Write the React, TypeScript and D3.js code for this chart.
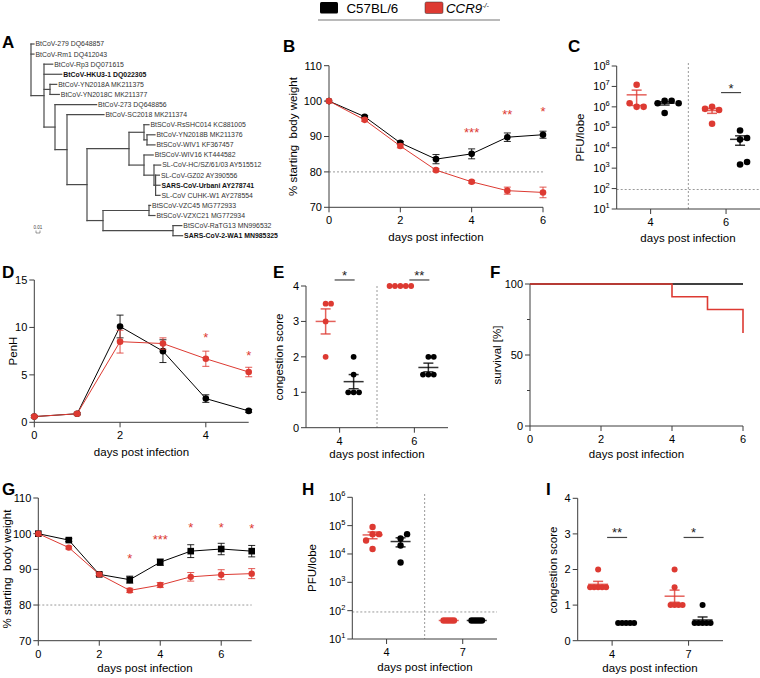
import React from 'react';
import * as d3 from 'd3';

const FONT = "'Liberation Sans', Arial, Helvetica, sans-serif";
const RED = '#dd3a32';
const BLK = '#000000';
const AX = '#3c3c3c';
const DASH = '#808080';

// ---------- Legend ----------
const legendLabels = ['C57BL/6', 'CCR9'];

// ---------- Panel A: phylogeny (branch lengths, substitutions/site) ----------
type TNode = { name?: string; len: number; bold?: boolean; children?: TNode[] };
const L = (name: string, len: number, bold = false): TNode => ({ name, len, bold });
const N = (len: number, ...children: TNode[]): TNode => ({ len, children });
const treeData: TNode = N(0,
  L('BtCoV-279 DQ648857', 0.0075),
  L('BtCoV-Rm1 DQ412043', 0.0075),
  N(0.0325,
    L('BtCoV-Rp3 DQ071615', 0.0218),
    L('BtCoV-HKU3-1 DQ022305', 0.0443, true),
    N(0.015, L('BtCoV-YN2018A MK211375', 0.0168), L('BtCoV-YN2018C MK211377', 0.0233)),
    N(0.0275,
      L('BtCoV-273 DQ648856', 0.104),
      N(0.03,
        L('BtCoV-SC2018 MK211374', 0.0925),
        N(0.05,
          N(0.105,
            N(0.0375,
              L('BtSCoV-RsSHC014 KC881005', 0.0125),
              N(0.0075, L('BtCoV-YN2018B MK211376', 0.02), L('BtSCoV-WIV1 KF367457', 0.02))),
            N(0.0375,
              L('BtSCoV-WIV16 KT444582', 0.023),
              N(0.025,
                L('SL-CoV-HC/SZ/61/03 AY515512', 0.0168),
                N(0.004,
                  L('SL-CoV-GZ02 AY390556', 0.0095),
                  L('SARS-CoV-Urbani AY278741', 0.011, true),
                  L('SL-CoV CUHK-W1 AY278554', 0.011))))),
          N(0.04,
            N(0.115, L('BtSCoV-VZC45 MG772933', 0.004), L('BtSCoV-VZXC21 MG772934', 0.015)),
            N(0.175, L('BtSCoV-RaTG13 MN996532', 0.022), L('SARS-CoV-2-WA1 MN985325', 0.024, true)))))))
);
const scaleBarValue = 0.01;

// ---------- Panel B ----------
const bDays = [0, 1, 2, 3, 4, 5, 6];
const bWT = [100, 95.6, 88.2, 83.6, 85.1, 89.8, 90.5];
const bWTsem = [0, 0.3, 0.4, 1.3, 1.4, 1.2, 1.0];
const bKO = [100, 94.7, 87.3, 80.5, 77.2, 74.7, 74.2];
const bKOsem = [0, 0.4, 0.5, 0.4, 0.4, 1.0, 1.5];
const bStars = [{ d: 4, v: 91.8, t: '***' }, { d: 5, v: 97, t: '**' }, { d: 6, v: 97.8, t: '*' }];
const bTicksY = [70, 80, 90, 100, 110];
const bTicksX = [0, 2, 4, 6];

// ---------- Panel C ----------
const cGroups = ['4', '6'];
const cKO = [[1.0e6, 1.2e7, 1.0e6, 1.5e6], [1.0e6, 7e5, 8e5, 1.5e5]];
const cWT = [[2e6, 2e6, 1.5e6, 1.5e6, 5e5], [7e4, 2.5e4, 3e4, 1.5e3, 2e3]];
const cLOD = 90;
const cSig = [{ g: '6', v: 5e6, t: '*' }];
const cExp = [1, 2, 3, 4, 5, 6, 7, 8];

// ---------- Panel D ----------
const dDays = [0, 1, 2, 3, 4, 5];
const dWT = [0.6, 0.9, 10.1, 7.5, 2.5, 1.2];
const dWTsem = [0.1, 0.1, 1.2, 1.2, 0.4, 0.15];
const dKO = [0.6, 0.9, 8.5, 8.3, 6.7, 5.3];
const dKOsem = [0.1, 0.15, 1.2, 0.6, 0.8, 0.5];
const dStars = [{ d: 4, v: 9.2, t: '*' }, { d: 5, v: 7.3, t: '*' }];
const dTicksY = [0, 5, 10, 15];
const dTicksX = [0, 2, 4];

// ---------- Panel E ----------
const eGroups = ['4', '6'];
const eKO = [[3.5, 3.5, 3, 2], [4, 4, 4, 4, 4]];
const eWT = [[2, 1.5, 1, 1, 1], [2, 2, 1.5, 1.5, 1.5]];
const eSig = [{ g: '4', v: 4.17, t: '*' }, { g: '6', v: 4.17, t: '**' }];
const eTicksY = [0, 1, 2, 3, 4];

// ---------- Panel F ----------
const fWTdays = [0, 6];
const fWT = [100, 100];
const fKOdays = [0, 4, 5, 6];
const fKO = [100, 91, 82, 65.5];
const fTicksY = [0, 50, 100];
const fMinorY = [25, 75];
const fTicksX = [0, 2, 4, 6];

// ---------- Panel G ----------
const gDays = [0, 1, 2, 3, 4, 5, 6, 7];
const gWT = [100, 98.2, 88.6, 87.1, 92.0, 95.1, 95.7, 95.1];
const gWTsem = [0, 0.4, 0.4, 1.0, 0.9, 1.8, 1.6, 1.6];
const gKO = [100, 96.1, 88.6, 84.1, 85.6, 87.9, 88.5, 88.8];
const gKOsem = [0, 0.4, 0.4, 0.6, 0.7, 1.2, 1.4, 1.4];
const gStars = [
  { d: 3, v: 93.7, t: '*' }, { d: 4, v: 99, t: '***' }, { d: 5, v: 102.4, t: '*' },
  { d: 6, v: 102.4, t: '*' }, { d: 7, v: 102.1, t: '*' },
];
const gTicksY = [70, 80, 90, 100, 110];
const gTicksX = [0, 2, 4, 6];

// ---------- Panel H ----------
const hGroups = ['4', '7'];
const hKO = [[9e4, 5e4, 5e4, 3e4, 1.5e4], [45, 45, 45, 45, 45]];
const hWT = [[3.5e4, 5e4, 2e4, 5e3], [45, 45, 45, 45, 45]];
const hLOD = 90;
const hExp = [1, 2, 3, 4, 5, 6];

// ---------- Panel I ----------
const iGroups = ['4', '7'];
const iKO = [[2, 1.5, 1.5, 1.5, 1.5, 1.5], [2, 1.5, 1, 1, 1, 1]];
const iWT = [[0.5, 0.5, 0.5, 0.5, 0.5], [1, 0.5, 0.5, 0.5, 0.5, 0.5]];
const iSig = [{ g: '4', v: 2.9, t: '**' }, { g: '7', v: 2.9, t: '*' }];
const iTicksY = [0, 1, 2, 3, 4];

const xTitle = 'days post infection';

// ---------- helpers ----------
type Sc = (v: any) => number;

function YAxis({ x, scale, ticks, fmt, minor = [] }: { x: number; scale: any; ticks: number[]; fmt?: (t: number) => any; minor?: number[] }) {
  const [r0, r1] = scale.range();
  return (
    <g>
      <line x1={x} x2={x} y1={r0} y2={r1} stroke={AX} strokeWidth={1} />
      {ticks.map((t) => (
        <g key={t}>
          <line x1={x - 5} x2={x} y1={scale(t)} y2={scale(t)} stroke={AX} />
          {fmt ? fmt(t) : (
            <text x={x - 7} y={scale(t)} dy="0.36em" textAnchor="end" fontSize={11}>{t}</text>
          )}
        </g>
      ))}
      {minor.map((t) => (
        <line key={'m' + t} x1={x - 3} x2={x} y1={scale(t)} y2={scale(t)} stroke={AX} />
      ))}
    </g>
  );
}

function XAxis({ y, x0, x1, ticks }: { y: number; x0: number; x1: number; ticks: { p: number; l: string }[] }) {
  return (
    <g>
      <line x1={x0} x2={x1} y1={y} y2={y} stroke={AX} strokeWidth={1} />
      {ticks.map((t) => (
        <g key={t.l}>
          <line x1={t.p} x2={t.p} y1={y} y2={y + 5} stroke={AX} />
          <text x={t.p} y={y + 17} textAnchor="middle" fontSize={11}>{t.l}</text>
        </g>
      ))}
    </g>
  );
}

function YTitle({ x, y, text }: { x: number; y: number; text: string }) {
  return (
    <text transform={`translate(${x},${y}) rotate(-90)`} textAnchor="middle" dy="0.35em" fontSize={11.5} style={{ whiteSpace: 'pre' }}>
      {text}
    </text>
  );
}

function Letter({ x, y, t }: { x: number; y: number; t: string }) {
  return <text x={x} y={y} fontSize={17} fontWeight="bold">{t}</text>;
}

function Series({ xs, ys, days, vals, sems, color, square = false, r = 3.3 }: any) {
  const line = d3.line<number>().x((_, i) => xs(days[i])).y((v) => ys(v));
  return (
    <g>
      <path d={line(vals) || ''} fill="none" stroke={color} strokeWidth={1} />
      {vals.map((v: number, i: number) => {
        const s = sems[i];
        if (!s) return null;
        const cx = xs(days[i]);
        return (
          <g key={'e' + i} stroke={color} strokeWidth={1} strokeOpacity={0.85}>
            <line x1={cx} x2={cx} y1={ys(v - s)} y2={ys(v + s)} />
            <line x1={cx - 3.5} x2={cx + 3.5} y1={ys(v - s)} y2={ys(v - s)} />
            <line x1={cx - 3.5} x2={cx + 3.5} y1={ys(v + s)} y2={ys(v + s)} />
          </g>
        );
      })}
      {vals.map((v: number, i: number) => {
        const cx = xs(days[i]);
        const cy = ys(v);
        return square ? (
          <rect key={i} x={cx - 3.3} y={cy - 3.3} width={6.6} height={6.6} fill={color} />
        ) : (
          <circle key={i} cx={cx} cy={cy} r={r} fill={color} />
        );
      })}
    </g>
  );
}

function swarm(vals: number[], ys: Sc, s: number): number[] {
  const placed: { dx: number; y: number }[] = [];
  return vals.map((v) => {
    const y = ys(v);
    for (let k = 0; k < 60; k++) {
      const dx = k === 0 ? 0 : (k % 2 ? 1 : -1) * Math.ceil(k / 2) * s;
      if (placed.every((p) => Math.hypot(p.dx - dx, p.y - y) >= s - 0.01)) {
        placed.push({ dx, y });
        return dx;
      }
    }
    return 0;
  });
}

function Scatter({ cx, ys, vals, color, r, s }: { cx: number; ys: Sc; vals: number[]; color: string; r: number; s: number }) {
  const dxs = swarm(vals, ys, s);
  const m = d3.mean(vals) as number;
  const sd = vals.length > 1 ? (d3.deviation(vals) as number) : 0;
  const se = sd / Math.sqrt(vals.length);
  return (
    <g>
      {vals.map((v, i) => (
        <circle key={i} cx={cx + dxs[i]} cy={ys(v)} r={r} fill={color} />
      ))}
      <g stroke={color} strokeWidth={1.5} strokeOpacity={0.8}>
        <line x1={cx - 10} x2={cx + 10} y1={ys(m)} y2={ys(m)} />
        {se > 1e-9 && (
          <>
            <line x1={cx} x2={cx} y1={ys(m + se)} y2={m - se > 0 ? ys(m - se) : ys(m)} />
            <line x1={cx - 5} x2={cx + 5} y1={ys(m + se)} y2={ys(m + se)} />
            {m - se > 0 && <line x1={cx - 5} x2={cx + 5} y1={ys(m - se)} y2={ys(m - se)} />}
          </>
        )}
      </g>
    </g>
  );
}

function SigBar({ cx, y, t }: { cx: number; y: number; t: string }) {
  return (
    <g>
      <line x1={cx - 10} x2={cx + 10} y1={y} y2={y} stroke="#444" strokeWidth={1.2} />
      <text x={cx} y={y} textAnchor="middle" fontSize={13} fill="#222">{t}</text>
    </g>
  );
}

function Stars({ xs, ys, stars }: any) {
  return (
    <g>
      {stars.map((s: any, i: number) => (
        <text key={i} x={xs(s.d)} y={ys(s.v) + 7} textAnchor="middle" fontSize={13} fill={RED}>{s.t}</text>
      ))}
    </g>
  );
}

const logFmt = (x: number, scale: any) => (e: number) => (
  <text x={x - 7} y={scale(Math.pow(10, e))} dy="0.36em" textAnchor="end" fontSize={11}>
    10<tspan fontSize={7.5} dy={-5}>{e}</tspan>
  </text>
);

const allSame = (v: number[]) => v.every((x) => x === v[0]);

// ---------- Tree ----------
function Tree() {
  const root = d3.hierarchy<TNode>(treeData, (d) => d.children);
  const leaves = root.leaves();
  const yL = d3.scalePoint<number>().domain(leaves.map((_, i) => i)).range([44, 235.7]);
  const xT = d3.scaleLinear().domain([0, 0.01]).range([31, 35]);
  const pos = new Map<any, { x: number; y: number }>();
  root.eachBefore((n) => {
    const px = n.parent ? pos.get(n.parent)!.x : xT(0);
    pos.set(n, { x: n.parent ? px + (xT(n.data.len) - xT(0)) : px, y: 0 });
  });
  leaves.forEach((l, i) => { pos.get(l)!.y = yL(i)!; });
  root.eachAfter((n) => {
    if (n.children) {
      const c = n.children;
      pos.get(n)!.y = (pos.get(c[0])!.y + pos.get(c[c.length - 1])!.y) / 2;
    }
  });
  const segs: JSX.Element[] = [];
  root.each((n) => {
    const p = pos.get(n)!;
    if (n.parent) {
      const pp = pos.get(n.parent)!;
      segs.push(<line key={'h' + segs.length} x1={pp.x} x2={p.x} y1={p.y} y2={p.y} />);
    }
    if (n.children) {
      const c = n.children;
      segs.push(<line key={'v' + segs.length} x1={p.x} x2={p.x} y1={pos.get(c[0])!.y} y2={pos.get(c[c.length - 1])!.y} />);
    }
  });
  const sbX0 = 36;
  const sbX1 = sbX0 + (xT(scaleBarValue) - xT(0));
  return (
    <g>
      <g stroke="#4a4a4a" strokeWidth={1.2} strokeLinecap="square">{segs}</g>
      {leaves.map((l, i) => {
        const p = pos.get(l)!;
        return (
          <text key={i} x={p.x + 1.5} y={p.y} dy="0.35em" fontSize={6.9} fontWeight={l.data.bold ? 'bold' : 'normal'} fill={l.data.bold ? '#111' : '#333'}>
            {l.data.name}
          </text>
        );
      })}
      <path d={`M${sbX0},230.5 V233 H${sbX1} V230.5`} fill="none" stroke="#555" strokeWidth={0.6} />
      <text x={(sbX0 + sbX1) / 2} y={228.5} textAnchor="middle" fontSize={4.5} fill="#444">{scaleBarValue}</text>
    </g>
  );
}

export default function App() {
  // scales
  const bx = d3.scaleLinear().domain([0, 6]).range([329, 543]);
  const by = d3.scaleLinear().domain([70, 110]).range([207.3, 65.7]);
  const cx = d3.scalePoint<string>().domain(cGroups).range([616.7, 760]).padding(0.45);
  const cy = d3.scaleLog().domain([10, 1e8]).range([209, 66]);
  const dx = d3.scaleLinear().domain([0, 5]).range([34.3, 248.7]);
  const dy = d3.scaleLinear().domain([0, 15]).range([422.3, 280]);
  const ex = d3.scalePoint<string>().domain(eGroups).range([306, 448]).padding(0.45);
  const ey = d3.scaleLinear().domain([0, 4]).range([427.7, 286]);
  const fx = d3.scaleLinear().domain([0, 6]).range([530, 743]);
  const fy = d3.scaleLinear().domain([0, 100]).range([426, 284]);
  const gx = d3.scaleLinear().domain([0, 7]).range([38.3, 251.7]);
  const gy = d3.scaleLinear().domain([70, 110]).range([640.7, 498]);
  const hx = d3.scalePoint<string>().domain(hGroups).range([352.3, 497]).padding(0.45);
  const hy = d3.scaleLog().domain([10, 1e6]).range([639, 497.3]);
  const ix = d3.scalePoint<string>().domain(iGroups).range([577.7, 723]).padding(0.45);
  const iy = d3.scaleLinear().domain([0, 4]).range([640.7, 498.3]);

  const OFF = 14;
  const mid = (s: any, g: string[]) => (s(g[0]) + s(g[1])) / 2;
  const fLine = d3.line<number>().curve(d3.curveStepAfter);

  return (
    <svg width={760} height={678} style={{ position: 'absolute', left: 0, top: 0, background: '#fff' }} fontFamily={FONT}>
      <rect x={0} y={0} width={760} height={678} fill="#fff" />

      {/* Legend */}
      <g>
        <rect x={320} y={2} width={18} height={11.5} rx={1.5} fill={BLK} />
        <text x={346.5} y={12.8} fontSize={13.3}>{legendLabels[0]}</text>
        <rect x={425} y={2} width={18} height={11.5} rx={1.5} fill={RED} stroke="#333" strokeWidth={0.5} />
        <text x={446} y={12.8} fontSize={13.3} fontStyle="italic">
          {legendLabels[1]}<tspan fontSize={7} dy={-5}>-/-</tspan>
        </text>
        <line x1={318} x2={500} y1={20} y2={20} stroke="#777" strokeWidth={1.2} />
      </g>

      {/* A */}
      <Letter x={2} y={48} t="A" />
      <Tree />

      {/* B */}
      <Letter x={283} y={52} t="B" />
      <line x1={bx(0)} x2={bx(6)} y1={by(80)} y2={by(80)} stroke={DASH} strokeDasharray="2,2" strokeWidth={0.8} />
      <YAxis x={329} scale={by} ticks={bTicksY} />
      <XAxis y={207.3} x0={329} x1={543} ticks={bTicksX.map((t) => ({ p: bx(t), l: String(t) }))} />
      <Series xs={bx} ys={by} days={bDays} vals={bWT} sems={bWTsem} color={BLK} />
      <Series xs={bx} ys={by} days={bDays} vals={bKO} sems={bKOsem} color={RED} />
      <Stars xs={bx} ys={by} stars={bStars} />
      <YTitle x={293} y={136.5} text={'% starting  body weight'} />
      <text x={436} y={241} textAnchor="middle" fontSize={11.5}>{xTitle}</text>

      {/* C */}
      <Letter x={568} y={52} t="C" />
      <line x1={616.7} x2={760} y1={cy(cLOD)} y2={cy(cLOD)} stroke={DASH} strokeDasharray="2,2" strokeWidth={0.8} />
      <line x1={mid(cx, cGroups)} x2={mid(cx, cGroups)} y1={63} y2={209} stroke={DASH} strokeDasharray="2,2" strokeWidth={0.8} />
      <YAxis x={616.7} scale={cy} ticks={cExp.map((e) => Math.pow(10, e))} fmt={(t) => logFmt(616.7, cy)(Math.round(Math.log10(t)))} />
      <XAxis y={209} x0={616.7} x1={760} ticks={cGroups.map((g) => ({ p: cx(g)!, l: g }))} />
      {cGroups.map((g, i) => (
        <g key={g}>
          <Scatter cx={cx(g)! - OFF} ys={cy} vals={cKO[i]} color={RED} r={3.3} s={7} />
          <Scatter cx={cx(g)! + OFF} ys={cy} vals={cWT[i]} color={BLK} r={3.3} s={7} />
        </g>
      ))}
      {cSig.map((s, i) => <SigBar key={i} cx={cx(s.g)! + 5} y={cy(s.v)} t={s.t} />)}
      <YTitle x={580} y={137.5} text="PFU/lobe" />
      <text x={688} y={242} textAnchor="middle" fontSize={11.5}>{xTitle}</text>

      {/* D */}
      <Letter x={2} y={278} t="D" />
      <YAxis x={34.3} scale={dy} ticks={dTicksY} />
      <XAxis y={422.3} x0={34.3} x1={248.7} ticks={dTicksX.map((t) => ({ p: dx(t), l: String(t) }))} />
      <Series xs={dx} ys={dy} days={dDays} vals={dWT} sems={dWTsem} color={BLK} />
      <Series xs={dx} ys={dy} days={dDays} vals={dKO} sems={dKOsem} color={RED} />
      <Stars xs={dx} ys={dy} stars={dStars} />
      <YTitle x={13} y={351} text="PenH" />
      <text x={141.5} y={456} textAnchor="middle" fontSize={11.5}>{xTitle}</text>

      {/* E */}
      <Letter x={273} y={278} t="E" />
      <line x1={mid(ex, eGroups)} x2={mid(ex, eGroups)} y1={286} y2={427.7} stroke={DASH} strokeDasharray="2,2" strokeWidth={0.8} />
      <YAxis x={306} scale={ey} ticks={eTicksY} />
      <XAxis y={427.7} x0={306} x1={448} ticks={eGroups.map((g) => ({ p: ex(g)!, l: g }))} />
      {eGroups.map((g, i) => (
        <g key={g}>
          <Scatter cx={ex(g)! - OFF} ys={ey} vals={eKO[i]} color={RED} r={2.9} s={5.4} />
          <Scatter cx={ex(g)! + OFF} ys={ey} vals={eWT[i]} color={BLK} r={2.9} s={5.4} />
        </g>
      ))}
      {eSig.map((s, i) => <SigBar key={i} cx={ex(s.g)! + 5} y={ey(s.v)} t={s.t} />)}
      <YTitle x={279} y={357} text="congestion score" />
      <text x={377} y={458} textAnchor="middle" fontSize={11.5}>{xTitle}</text>

      {/* F */}
      <Letter x={490} y={278} t="F" />
      <YAxis x={530} scale={fy} ticks={fTicksY} minor={fMinorY} />
      <XAxis y={426} x0={530} x1={743} ticks={fTicksX.map((t) => ({ p: fx(t), l: String(t) }))} />
      <path d={fLine(fWTdays.map((d, i) => [fx(d), fy(fWT[i])] as [number, number])) || ''} fill="none" stroke={BLK} strokeWidth={1.6} />
      <path d={fLine(fKOdays.map((d, i) => [fx(d), fy(fKO[i])] as [number, number])) || ''} fill="none" stroke={RED} strokeWidth={1.6} />
      <YTitle x={497} y={355} text="survival [%]" />
      <text x={636.5} y={458} textAnchor="middle" fontSize={11.5}>{xTitle}</text>

      {/* G */}
      <Letter x={2} y={495} t="G" />
      <line x1={gx(0)} x2={gx(7)} y1={gy(80)} y2={gy(80)} stroke={DASH} strokeDasharray="2,2" strokeWidth={0.8} />
      <YAxis x={38.3} scale={gy} ticks={gTicksY} />
      <XAxis y={640.7} x0={38.3} x1={251.7} ticks={gTicksX.map((t) => ({ p: gx(t), l: String(t) }))} />
      <Series xs={gx} ys={gy} days={gDays} vals={gWT} sems={gWTsem} color={BLK} square />
      <Series xs={gx} ys={gy} days={gDays} vals={gKO} sems={gKOsem} color={RED} r={3.2} />
      <Stars xs={gx} ys={gy} stars={gStars} />
      <YTitle x={7} y={569} text={'% starting  body weight'} />
      <text x={145} y={672} textAnchor="middle" fontSize={11.5}>{xTitle}</text>

      {/* H */}
      <Letter x={302} y={495} t="H" />
      <line x1={352.3} x2={497} y1={hy(hLOD)} y2={hy(hLOD)} stroke={DASH} strokeDasharray="2,2" strokeWidth={0.8} />
      <line x1={mid(hx, hGroups)} x2={mid(hx, hGroups)} y1={494} y2={639} stroke={DASH} strokeDasharray="2,2" strokeWidth={0.8} />
      <YAxis x={352.3} scale={hy} ticks={hExp.map((e) => Math.pow(10, e))} fmt={(t) => logFmt(352.3, hy)(Math.round(Math.log10(t)))} />
      <XAxis y={639} x0={352.3} x1={497} ticks={hGroups.map((g) => ({ p: hx(g)!, l: g }))} />
      {hGroups.map((g, i) => (
        <g key={g}>
          <Scatter cx={hx(g)! - OFF} ys={hy} vals={hKO[i]} color={RED} r={3.2} s={allSame(hKO[i]) ? 2.6 : 6.5} />
          <Scatter cx={hx(g)! + OFF} ys={hy} vals={hWT[i]} color={BLK} r={3.2} s={allSame(hWT[i]) ? 2.6 : 6.5} />
        </g>
      ))}
      <YTitle x={312} y={568} text="PFU/lobe" />
      <text x={425} y={671} textAnchor="middle" fontSize={11.5}>{xTitle}</text>

      {/* I */}
      <Letter x={546} y={495} t="I" />
      <YAxis x={577.7} scale={iy} ticks={iTicksY} />
      <XAxis y={640.7} x0={577.7} x1={723} ticks={iGroups.map((g) => ({ p: ix(g)!, l: g }))} />
      {iGroups.map((g, i) => (
        <g key={g}>
          <Scatter cx={ix(g)! - OFF} ys={iy} vals={iKO[i]} color={RED} r={3} s={4} />
          <Scatter cx={ix(g)! + OFF} ys={iy} vals={iWT[i]} color={BLK} r={3} s={4} />
        </g>
      ))}
      {iSig.map((s, i) => <SigBar key={i} cx={ix(s.g)! + 5} y={iy(s.v)} t={s.t} />)}
      <YTitle x={553} y={570} text="congestion score" />
      <text x={650} y={672} textAnchor="middle" fontSize={11.5}>{xTitle}</text>
    </svg>
  );
}
